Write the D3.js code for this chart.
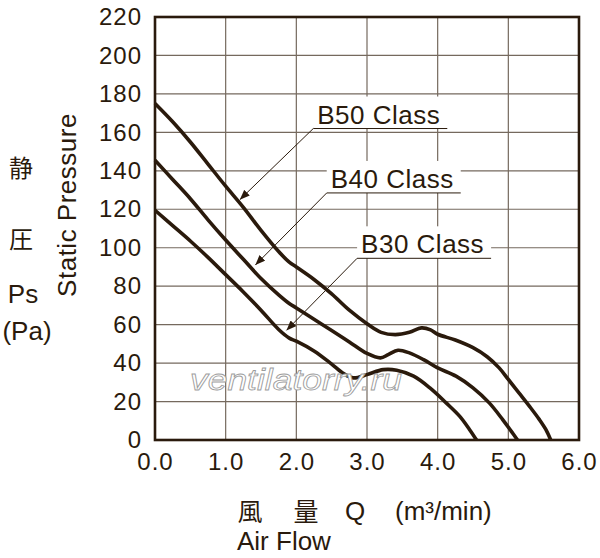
<!DOCTYPE html>
<html>
<head>
<meta charset="utf-8">
<script src="https://cdn.jsdelivr.net/npm/d3@7"></script>
<style>
  body { margin: 0; background: #fff; }
  text { font-family: "Liberation Sans", Arial, sans-serif; fill: #2a1a0c; }
</style>
</head>
<body>
<div id="chart"></div>
<script>
// values: air flow (m3/min) and static pressure (Pa)
let flowB50 = [0.0, 0.25, 0.5, 0.75, 1.0, 1.25, 1.5, 1.75, 1.9, 2.0, 2.25, 2.5, 2.75, 3.0, 3.2, 3.4, 3.6, 3.77, 3.9, 4.0, 4.25, 4.5, 4.7, 4.87, 5.0, 5.15, 5.3, 5.44, 5.53, 5.6];
let psB50   = [175, 165.5, 155, 143.5, 132, 121, 109, 98, 92.5, 90, 83.5, 76, 67.5, 60.5, 56, 54.8, 56, 58.3, 57.3, 55, 52, 48, 43.3, 37.5, 31.5, 24.5, 17.5, 10.6, 5.5, 0];

let flowB40 = [0.0, 0.25, 0.5, 0.75, 1.0, 1.25, 1.5, 1.75, 1.9, 2.0, 2.25, 2.5, 2.75, 3.0, 3.19, 3.3, 3.44, 3.6, 3.8, 4.0, 4.26, 4.5, 4.73, 4.92, 5.04, 5.13];
let psB40   = [145.5, 135.5, 125.5, 114.5, 104, 94, 84, 75.5, 71, 68.7, 62.8, 57, 51, 45, 42.7, 44.4, 46.7, 45.3, 41.8, 37.5, 33.2, 27.1, 19.3, 10.6, 4.6, 0];

let flowB30 = [0.0, 0.25, 0.5, 0.75, 1.0, 1.25, 1.5, 1.75, 1.9, 2.0, 2.25, 2.5, 2.67, 2.81, 3.0, 3.23, 3.42, 3.66, 3.89, 4.12, 4.31, 4.45, 4.55];
let psB30   = [119.5, 111.5, 103.5, 95, 86, 77, 67.5, 57.5, 53, 51.4, 46.3, 39.5, 34.5, 32.3, 34, 36.6, 36.3, 33.2, 27.1, 19.3, 12.4, 5.5, 0];

let seriesNames = ["B50 Class", "B40 Class", "B30 Class"];
// leader arrows: where the label underline starts and where the arrow touches the curve
let labelFlow = [2.24, 2.43, 2.86];
let labelPs   = [162, 128.5, 94.5];
let tipFlow   = [1.2, 1.42, 1.86];
let tipPs     = [125, 91, 57];

let flowTicks = [0, 1, 2, 3, 4, 5, 6];
let psTicks = [0, 20, 40, 60, 80, 100, 120, 140, 160, 180, 200, 220];

let width = 600, height = 558;
let margin = {top: 17, right: 21, bottom: 118, left: 155};
let ink = "#2a1a0c";

let svg = d3.select('#chart')
    .append('svg')
    .attr('width', width)
    .attr('height', height);

let x = d3.scaleLinear().domain([0, 6]).range([margin.left, width - margin.right]);
let y = d3.scaleLinear().domain([0, 220]).range([height - margin.bottom, margin.top]);

// grid
svg.append('g')
    .selectAll('line')
    .data(flowTicks)
    .enter().append('line')
    .attr('x1', d => x(d)).attr('x2', d => x(d))
    .attr('y1', y(0)).attr('y2', y(220))
    .attr('stroke', '#75695e')
    .attr('stroke-width', 1.2);
svg.append('g')
    .selectAll('line')
    .data(psTicks)
    .enter().append('line')
    .attr('x1', x(0)).attr('x2', x(6))
    .attr('y1', d => y(d)).attr('y2', d => y(d))
    .attr('stroke', '#75695e')
    .attr('stroke-width', 1.2);

// white boxes behind the labels
let underlineLen = 134;
seriesNames.forEach(function (name, i) {
    svg.append('rect')
        .attr('x', x(labelFlow[i]))
        .attr('y', y(labelPs[i]) - 32)
        .attr('width', underlineLen)
        .attr('height', 32)
        .attr('fill', '#fff');
});

// curves
let line = d3.line()
    .x(d => x(d[0]))
    .y(d => y(d[1]))
    .curve(d3.curveCatmullRom.alpha(0.5));

[[flowB50, psB50], [flowB40, psB40], [flowB30, psB30]].forEach(function (s) {
    svg.append('path')
        .attr('d', line(d3.zip(s[0], s[1])))
        .attr('fill', 'none')
        .attr('stroke', ink)
        .attr('stroke-width', 3.6)
        .attr('stroke-linejoin', 'round');
});

// arrow heads
svg.append('defs').append('marker')
    .attr('id', 'head')
    .attr('viewBox', '0 0 10 8')
    .attr('refX', 10).attr('refY', 4)
    .attr('markerWidth', 10).attr('markerHeight', 8)
    .attr('markerUnits', 'userSpaceOnUse')
    .attr('orient', 'auto')
    .append('path')
    .attr('d', 'M0,0L10,4L0,8Z')
    .attr('fill', ink);

seriesNames.forEach(function (name, i) {
    let lx = x(labelFlow[i]), ly = y(labelPs[i]);
    svg.append('line')
        .attr('x1', lx).attr('y1', ly)
        .attr('x2', x(tipFlow[i])).attr('y2', y(tipPs[i]))
        .attr('stroke', ink)
        .attr('stroke-width', 1)
        .attr('marker-end', 'url(#head)');
    svg.append('line')
        .attr('x1', lx).attr('y1', ly)
        .attr('x2', lx + underlineLen).attr('y2', ly)
        .attr('stroke', ink)
        .attr('stroke-width', 1);
    svg.append('text')
        .attr('x', lx + 4)
        .attr('y', ly - 5)
        .style('font-size', '26px')
        .style('letter-spacing', '0.5px')
        .text(name);
});

// watermark
svg.append('text')
    .attr('x', 190)
    .attr('y', 390)
    .attr('textLength', 212)
    .attr('lengthAdjust', 'spacingAndGlyphs')
    .style('font-size', '30px')
    .style('font-style', 'italic')
    .style('fill', '#fff')
    .style('stroke', '#9c9c9c')
    .style('stroke-width', 0.8)
    .text('ventilatorry.ru');

// frame
svg.append('rect')
    .attr('x', x(0)).attr('y', y(220))
    .attr('width', x(6) - x(0)).attr('height', y(0) - y(220))
    .attr('fill', 'none')
    .attr('stroke', ink)
    .attr('stroke-width', 2.6);

// axes
let xAxis = d3.axisBottom(x)
    .tickValues(flowTicks)
    .tickSize(0)
    .tickPadding(13)
    .tickFormat(d3.format('.1f'));
let gx = svg.append('g')
    .attr('transform', 'translate(0,' + y(0) + ')')
    .call(xAxis);
gx.select('.domain').remove();
gx.selectAll('text')
    .style('font-size', '24px')
    .style('letter-spacing', '1px')
    .style('font-family', '"Liberation Sans", Arial, sans-serif')
    .attr('fill', ink);

let yAxis = d3.axisLeft(y)
    .tickValues(psTicks)
    .tickSize(0)
    .tickPadding(13);
let gy = svg.append('g')
    .attr('transform', 'translate(' + x(0) + ',0)')
    .call(yAxis);
gy.select('.domain').remove();
gy.selectAll('text')
    .style('font-size', '24px')
    .style('letter-spacing', '1px')
    .style('font-family', '"Liberation Sans", Arial, sans-serif')
    .attr('fill', ink);

// axis titles
svg.append('text')
    .attr('transform', 'translate(76,205) rotate(-90)')
    .attr('text-anchor', 'middle')
    .style('font-size', '26px')
    .style('letter-spacing', '0.5px')
    .text('Static Pressure');

let cjk = '"Noto Sans CJK JP", "Noto Sans CJK SC", sans-serif';
svg.append('text').attr('x', 21).attr('y', 177).attr('text-anchor', 'middle')
    .style('font-size', '24px').style('font-family', cjk).text('静');
svg.append('text').attr('x', 21).attr('y', 248).attr('text-anchor', 'middle')
    .style('font-size', '24px').style('font-family', cjk).text('圧');
svg.append('text').attr('x', 23).attr('y', 303).attr('text-anchor', 'middle')
    .style('font-size', '26px').text('Ps');
svg.append('text').attr('x', 27).attr('y', 340).attr('text-anchor', 'middle')
    .style('font-size', '26px').text('(Pa)');

svg.append('text').attr('x', 250).attr('y', 521).attr('text-anchor', 'middle')
    .style('font-size', '25px').style('font-family', cjk).text('風');
svg.append('text').attr('x', 306).attr('y', 521).attr('text-anchor', 'middle')
    .style('font-size', '25px').style('font-family', cjk).text('量');
svg.append('text').attr('x', 355).attr('y', 520).attr('text-anchor', 'middle')
    .style('font-size', '26px').text('Q');
svg.append('text').attr('x', 395).attr('y', 520)
    .style('font-size', '26px').text('(m³/min)');
svg.append('text').attr('x', 237).attr('y', 550)
    .style('font-size', '26px').text('Air Flow');
</script>
</body>
</html>
